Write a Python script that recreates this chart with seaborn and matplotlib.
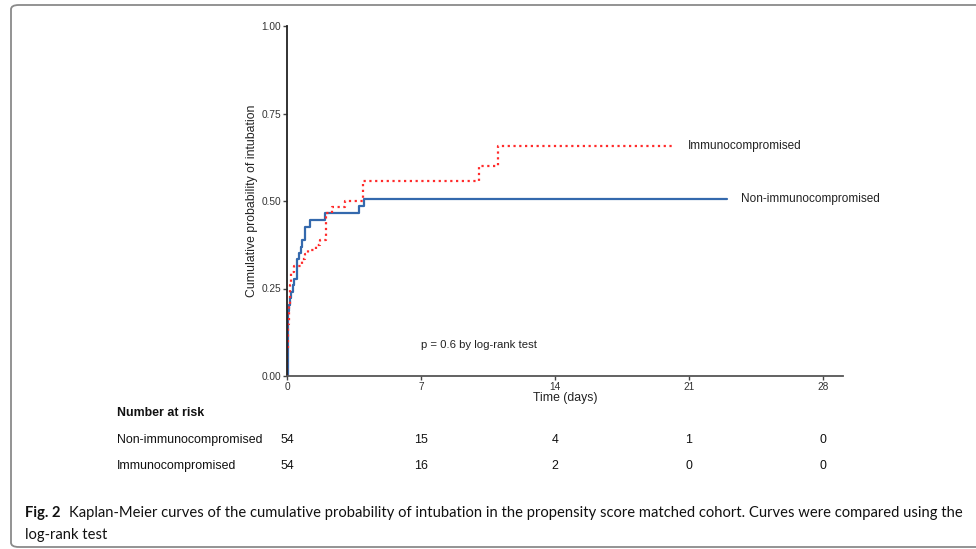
import matplotlib
matplotlib.use("Agg")
import matplotlib.pyplot as plt
import matplotlib.transforms as mtransforms
from matplotlib.patches import FancyBboxPatch
from matplotlib import font_manager
import seaborn as sns
import pandas as pd

# ---------------- data ----------------
groups = ["Non-immunocompromised", "Immunocompromised"]
non_times = [0, 0.03, 0.08, 0.15, 0.22, 0.3, 0.38, 0.5, 0.62, 0.72, 0.8, 0.95, 1.2, 1.98, 3.78, 4.03, 23.0]
non_prob = [0, 0.185, 0.204, 0.222, 0.241, 0.259, 0.278, 0.333, 0.352, 0.37, 0.389, 0.426, 0.446, 0.467, 0.487, 0.505, 0.505]
imm_times = [0, 0.02, 0.06, 0.1, 0.15, 0.22, 0.35, 0.8, 0.95, 1.1, 1.5, 1.7, 2.04, 2.33, 3.03, 3.99, 10.05, 11.04, 20.1]
imm_prob = [0, 0.074, 0.148, 0.204, 0.259, 0.296, 0.315, 0.333, 0.35, 0.36, 0.374, 0.39, 0.467, 0.482, 0.50, 0.557, 0.60, 0.657, 0.657]
x_ticks = [0, 7, 14, 21, 28]
y_ticks = [0.00, 0.25, 0.50, 0.75, 1.00]
risk_non = [54, 15, 4, 1, 0]
risk_imm = [54, 16, 2, 0, 0]
p_text = "p = 0.6 by log-rank test"
caption_bold = "Fig. 2"
caption_1 = "Kaplan-Meier curves of the cumulative probability of intubation in the propensity score matched cohort. Curves were compared using the"
caption_2 = "log-rank test"

df = pd.concat([
    pd.DataFrame({"time": non_times, "prob": non_prob, "group": groups[0]}),
    pd.DataFrame({"time": imm_times, "prob": imm_prob, "group": groups[1]}),
])

# ---------------- fonts ----------------
available = {f.name for f in font_manager.fontManager.ttflist}
narrow = "Liberation Sans Narrow" if "Liberation Sans Narrow" in available else "Liberation Sans"
arial = "Liberation Sans"
caption_font = "Lato" if "Lato" in available else "DejaVu Sans"

sns.set_theme(style="white")
plt.rcParams["font.family"] = [arial, "DejaVu Sans"]

W, H = 976, 549
fig = plt.figure(figsize=(W / 100, H / 100), dpi=100)

def fx(x):
    return x / W

def fy(y):
    return 1 - y / H

# border frame
frame = FancyBboxPatch((fx(11), fy(547)), fx(1100) - fx(11), fy(5) - fy(547),
                       boxstyle="round,pad=0,rounding_size=0.008",
                       transform=fig.transFigure, fill=False,
                       edgecolor="#8a8a8a", linewidth=1.3, clip_on=False)
fig.patches.append(frame)

ax_l, ax_r, ax_b, ax_t = 287, 843, 376, 26
ax = fig.add_axes([fx(ax_l), fy(ax_b), fx(ax_r) - fx(ax_l), fy(ax_t) - fy(ax_b)])

palette = {groups[0]: "#3469ad", groups[1]: "#ff2b2b"}
sns.lineplot(data=df, x="time", y="prob", hue="group", style="group",
             palette=palette, dashes={groups[0]: "", groups[1]: (1, 1.6)},
             drawstyle="steps-post", linewidth=1.6, legend=False, ax=ax,
             estimator=None, sort=False)

ax.set_xlim(0, 29.05)
ax.set_ylim(0, 1)
ax.set_xticks(x_ticks)
ax.set_xticklabels([str(t) for t in x_ticks])
ax.set_yticks(y_ticks)
ax.set_yticklabels([f"{v:.2f}" for v in y_ticks])
for s in ["top", "right"]:
    ax.spines[s].set_visible(False)
ax.spines["left"].set_color("#222222")
ax.spines["left"].set_linewidth(1.3)
ax.spines["bottom"].set_color("#555555")
ax.spines["bottom"].set_linewidth(1.3)
ax.tick_params(axis="both", which="major", length=3, width=1, color="#444444",
               labelsize=7.3, labelcolor="#333333", pad=1.5, bottom=True, left=True)

ax.set_xlabel("Time (days)", fontsize=8.8, color="#222222")
ax.xaxis.set_label_coords(0.5, (ax_b - 398) / (ax_b - ax_t), transform=ax.transAxes)
ax.xaxis.label.set_va("center")
ax.set_ylabel("Cumulative probability of intubation", fontsize=8.8, color="#222222")
ax.yaxis.set_label_coords((252 - ax_l) / (ax_r - ax_l), 0.5, transform=ax.transAxes)
ax.yaxis.label.set_va("center")

# curve labels and p-value
fig.text(fx(688), fy(146), groups[1], fontsize=8.5, color="#222222", va="center", ha="left")
fig.text(fx(741), fy(199), groups[0], fontsize=8.5, color="#222222", va="center", ha="left")
fig.text(fx(421), fy(345), p_text, fontsize=8.2, color="#222222", va="center", ha="left")

fig.canvas.draw()
renderer = fig.canvas.get_renderer()

# number at risk table (font size fitted to reference label width)
probe = fig.text(0, 0, groups[0], fontsize=10, family=[narrow, "DejaVu Sans"])
pw = probe.get_window_extent(renderer).width
probe.remove()
rfs = 10 * 146 / pw if pw > 0 else 8.8

fig.text(fx(117), fy(413), "Number at risk", fontsize=rfs, fontweight="bold",
         family=[narrow, "DejaVu Sans"], color="#111111", va="center", ha="left")
row_y = [440, 466]
trans = mtransforms.blended_transform_factory(ax.transData, fig.transFigure)
for lab, vals, yy in zip(groups, [risk_non, risk_imm], row_y):
    fig.text(fx(117), fy(yy), lab, fontsize=rfs, family=[narrow, "DejaVu Sans"],
             color="#111111", va="center", ha="left")
    for t, v in zip(x_ticks, vals):
        fig.text(t, fy(yy), str(v), transform=trans, fontsize=rfs,
                 family=[narrow, "DejaVu Sans"], color="#111111",
                 va="center", ha="center")

# caption, fitted so that line 1 ends near x=962
cfs = 9.0
for _ in range(3):
    tb = fig.text(fx(25), fy(513), caption_bold, fontsize=cfs, fontweight="bold",
                  family=[caption_font, "DejaVu Sans"], color="#111111", va="center", ha="left")
    bb = tb.get_window_extent(renderer)
    start = bb.x1 + cfs * 0.8
    t1 = fig.text(start / W, fy(513), caption_1, fontsize=cfs,
                  family=[caption_font, "DejaVu Sans"], color="#111111", va="center", ha="left")
    b1 = t1.get_window_extent(renderer)
    new_cfs = cfs * (962 - start) / b1.width
    tb.remove()
    t1.remove()
    if abs(new_cfs - cfs) < 0.02:
        cfs = new_cfs
        break
    cfs = new_cfs

tb = fig.text(fx(25), fy(513), caption_bold, fontsize=cfs, fontweight="bold",
              family=[caption_font, "DejaVu Sans"], color="#111111", va="center", ha="left")
bb = tb.get_window_extent(renderer)
start = bb.x1 + cfs * 0.8
fig.text(start / W, fy(513), caption_1, fontsize=cfs,
         family=[caption_font, "DejaVu Sans"], color="#111111", va="center", ha="left")
fig.text(fx(25), fy(535), caption_2, fontsize=cfs,
         family=[caption_font, "DejaVu Sans"], color="#111111", va="center", ha="left")

fig.savefig("out.png", dpi=100)
